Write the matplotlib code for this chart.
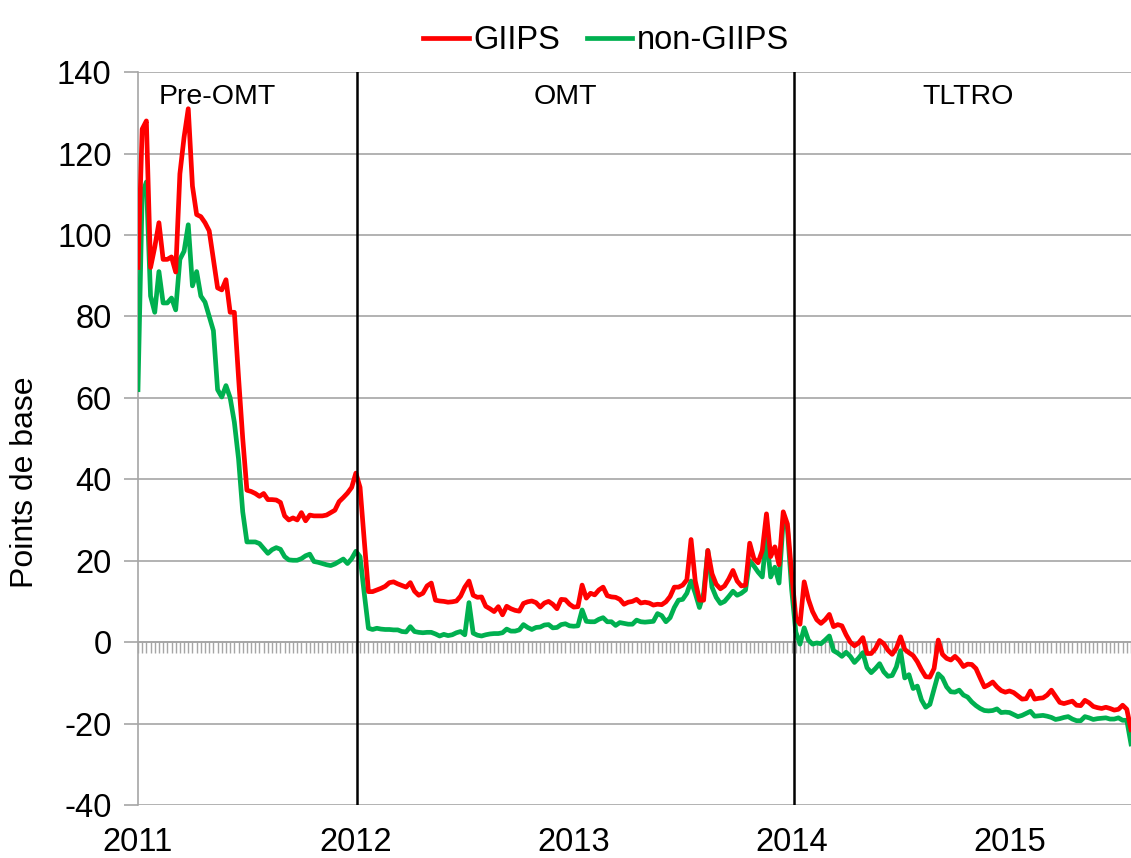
import matplotlib
matplotlib.use("Agg")
import matplotlib.pyplot as plt
from matplotlib.ticker import MultipleLocator
import numpy as np

# ---- data (weekly observations, Jan 2011 -> mid 2015) ----
giips = [
    92, 126, 128, 92, 97, 103, 94, 94, 94.6, 90.9, 115, 124, 131, 112, 105, 104.5, 103, 101, 94, 87,
    86.5, 89, 81, 81, 65, 50, 37.3, 37, 36.5, 35.8, 36.5, 35, 35, 34.9, 34.3, 31, 30, 30.5, 30, 31.8,
    29.8, 31.2, 31, 31, 31, 31.2, 31.8, 32.4, 34.5, 35.5, 36.6, 38, 41.5,
    38, 25, 12.4, 12.4, 12.8, 13.2, 13.7, 14.6, 14.8, 14.3, 13.9, 13.5, 14.6, 12.5, 11.5, 12, 13.8,
    14.5, 10.3, 10.1, 10, 9.8, 9.9, 10.1, 11.3, 13.5, 15, 11.5, 11, 11.1, 8.8, 8.2, 7.5, 8.7, 6.7,
    8.8, 8.2, 7.8, 7.6, 9.5, 9.9, 10.1, 9.7, 8.6, 9.6, 10, 9.3, 8.2, 10.5, 10.4, 9.3, 8.6, 8.7,
    14, 10.8, 12, 11.6, 12.8, 13.5, 11.4, 11.1, 11, 10.5, 9.3, 9.8, 10, 10.5, 9.6, 9.8, 9.6, 9.1,
    9.3, 9.2, 9.9, 11.2, 13.5, 13.5, 14, 15.3, 25.2, 15, 10.3, 10.3, 22.5, 16.8, 14.2, 13.1, 13.8,
    15.5, 17.6, 15, 13.8, 14, 24.3, 20.5, 19.5, 22.5, 31.5, 21, 23.4, 19, 32, 29, 17, 6, 4.4,
    14.8, 10.5, 7.5, 5.5, 4.6, 5.5, 6.8, 3.8, 4.3, 4, 1.8, 0, -0.9, -0.2, 1.1, -2.8, -2.8, -1.6,
    0.4, -0.4, -2, -3, -1.5, 1.3, -1.8, -2.6, -3.3, -4.8, -6.8, -8.5, -8.6, -6.5, 0.5, -3, -4,
    -4.4, -3.5, -4.5, -6, -5.4, -5.5, -6.5, -8.8, -11, -10.5, -9.8, -11, -11.9, -12.3, -12, -12.4,
    -13.2, -14, -13.9, -12, -14, -13.8, -13.7, -13, -11.8, -13.3, -14.8, -15.1, -14.8, -14.5, -15.5,
    -15.6, -14.3, -14.9, -15.8, -16.1, -16.3, -16, -16.3, -16.7, -16.5, -15.5, -16.5, -21.5,
]
non_giips = [
    62, 110, 113, 85, 81, 91, 83.3, 83.3, 84.5, 81.6, 94, 96, 102.5, 87.5, 91, 85, 83.5, 80, 76.5, 62,
    60.2, 63, 60, 54, 45, 32, 24.6, 24.6, 24.6, 24.2, 23, 21.8, 22.7, 23.2, 22.8, 21, 20.2, 20.1, 20.1,
    20.5, 21.2, 21.6, 19.8, 19.6, 19.3, 19, 18.8, 19.2, 19.8, 20.4, 19.3, 20.5, 22.3,
    21, 12, 3.4, 3.1, 3.4, 3.2, 3.1, 3.1, 3, 3, 2.6, 2.5, 3.8, 2.6, 2.4, 2.3, 2.4, 2.4, 2, 1.5, 1.9,
    1.6, 1.8, 2.3, 2.6, 1.8, 9.7, 2.2, 1.7, 1.5, 1.8, 2, 2.1, 2.1, 2.3, 3.2, 2.7, 2.7, 3, 4.3, 3.6,
    3.1, 3.6, 3.7, 4.2, 4.3, 3.5, 3.6, 4.3, 4.5, 4, 3.9, 4, 7.9, 5.1, 5, 5, 5.6, 6, 5, 5, 4.1, 4.8,
    4.6, 4.4, 4.4, 5.4, 5, 4.9, 5, 5.1, 7, 6.5, 5, 6, 8.5, 10.3, 10.5, 12, 15, 12, 8.5, 12, 22.5,
    13.5, 11, 9.5, 10, 11.2, 12.5, 11.5, 12, 12.8, 20, 18.7, 17.2, 16, 26, 16, 18.4, 14.5, 30, 28,
    13, 2.5, -0.5, 3.5, 0.5, -0.5, -0.2, -0.4, 0.5, 1.5, -2.1, -2.7, -3.5, -2.5, -3.5, -5, -3.9, -2.6,
    -6.3, -7.5, -6.5, -5.3, -7.3, -8.4, -8.2, -6.1, -2.1, -8.8, -8, -11.4, -10.8, -14.2, -16, -15.3,
    -11.5, -7.8, -8.8, -11, -12.2, -12.3, -11.8, -13, -13.5, -14.7, -15.6, -16.3, -16.8, -16.9, -16.8,
    -16.4, -17.3, -17.2, -17.3, -17.8, -18.3, -18, -17.5, -17, -18.2, -18.1, -18, -18.2, -18.5, -19,
    -18.8, -18.5, -18.3, -18.9, -19.3, -19.3, -18.3, -18.6, -19, -18.8, -18.7, -18.6, -18.9, -18.9,
    -18.6, -19.2, -19.2, -25,
]
year_labels = ["2011", "2012", "2013", "2014", "2015"]
year_weeks = [0, 52, 104, 156, 208]
period_bounds = [52.3, 156.6]
period_names = ["Pre-OMT", "OMT", "TLTRO"]
period_label_x = [19, 102, 198]

n = min(len(giips), len(non_giips))
weeks = np.arange(n)

plt.rcParams["font.family"] = ["Liberation Sans", "DejaVu Sans"]
plt.rcParams["axes.unicode_minus"] = False

fig = plt.figure(figsize=(11.31, 8.58), dpi=100)
ax = fig.add_axes([0.122, 0.0618, 0.878, 0.8542])

ax.plot(weeks, giips[:n], color="#FF0000", lw=3.4, label="GIIPS", zorder=4)
ax.plot(weeks, non_giips[:n], color="#00B050", lw=3.4, label="non-GIIPS", zorder=3)

for b in period_bounds:
    ax.axvline(b, color="black", lw=1.8, zorder=5)
for name, px in zip(period_names, period_label_x):
    ax.text(px, 134, name, ha="center", va="center", fontsize=20.5)

ax.set_xlim(0, n - 1)
ax.set_ylim(-40, 140)
ax.set_yticks(np.arange(-40, 141, 20))
ax.yaxis.grid(True, color="#A6A6A6", lw=1.2)
ax.set_axisbelow(True)
ax.tick_params(axis="y", labelsize=23.5, length=10, width=1.2, color="#A6A6A6", pad=9)

# category axis crossing at zero with a tick per week
ax.spines["bottom"].set_position(("data", 0))
ax.spines["bottom"].set_color("#A6A6A6")
ax.spines["bottom"].set_linewidth(1.2)
ax.spines["top"].set_visible(False)
ax.spines["right"].set_visible(False)
ax.spines["left"].set_color("#A6A6A6")
ax.spines["left"].set_linewidth(1.2)
ax.xaxis.set_major_locator(MultipleLocator(1))
ax.tick_params(axis="x", which="major", length=8, width=1, color="#A6A6A6",
               direction="out", labelbottom=False)

sec = ax.secondary_xaxis("bottom")
sec.set_xticks(year_weeks, year_labels)
sec.tick_params(length=0, labelsize=23.5, pad=16)
sec.spines["bottom"].set_visible(False)

ax.set_ylabel("Points de base", fontsize=23)
ax.yaxis.set_label_coords(-0.099, 0.44)

fig.legend(loc="upper center", bbox_to_anchor=(0.536, 1.005), ncol=2, frameon=False,
           fontsize=23.5, handlelength=1.4, handletextpad=0.15, columnspacing=0.8)

fig.savefig("out.png", dpi=100)
